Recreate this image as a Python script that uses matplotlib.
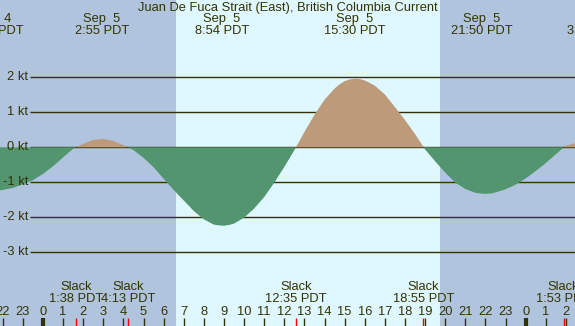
import matplotlib
matplotlib.use("Agg")
import matplotlib.pyplot as plt
import matplotlib.transforms as mtransforms

plt.rcParams['font.family'] = ['Liberation Sans', 'DejaVu Sans']

title = "Juan De Fuca Strait (East), British Columbia Current"

# current speed (kt) (hours from midnight Sep 5)
hours = [-2.5, -2.0, -1.5, -1.0, -0.5, 0.0, 0.5, 1.0, 1.5, 2.0,
         2.5, 3.0, 3.5, 4.0, 4.5, 5.0, 5.5, 6.0, 6.5, 7.0,
         7.5, 8.0, 8.5, 8.75, 9.0, 9.25, 9.5, 10.0, 10.5, 11.0, 11.5, 12.0,
         12.5, 13.0, 13.5, 14.0, 14.5, 14.75, 15.0, 15.25, 15.5, 15.75, 16.0, 16.25,
         16.5, 17.0, 17.5, 18.0, 18.5, 19.0, 19.5, 20.0, 20.5, 21.0, 21.5,
         21.75, 22.0, 22.25, 22.5, 23.0, 23.5, 24.0, 24.5, 25.0, 25.5, 26.0, 26.5, 27.0]
speed = [-1.25, -1.22, -1.16, -1.06, -0.94, -0.76, -0.54, -0.29, -0.04, 0.10,
         0.21, 0.24, 0.18, 0.06, -0.08, -0.30, -0.57, -0.90, -1.22, -1.52,
         -1.82, -2.06, -2.21, -2.23, -2.24, -2.22, -2.18, -2.01, -1.75, -1.42, -1.01, -0.56,
         -0.08, 0.44, 0.93, 1.36, 1.68, 1.80, 1.89, 1.94, 1.96, 1.95, 1.91, 1.84,
         1.76, 1.51, 1.15, 0.78, 0.38, -0.06, -0.40, -0.72, -1.01, -1.19, -1.30,
         -1.32, -1.33, -1.32, -1.29, -1.20, -1.07, -0.89, -0.68, -0.45, -0.20, 0.05, 0.12, 0.18]

# max flood / max ebb labels along the top
peak_hours = [-2.5, 2.917, 8.9, 15.5, 21.833, 27.4]
peak_dates = ["Sep  4", "Sep  5", "Sep  5", "Sep  5", "Sep  5", "Sep  6"]
peak_times = ["21:30 PDT", "2:55 PDT", "8:54 PDT", "15:30 PDT", "21:50 PDT", "3:25 PDT"]

# slack water
slack_hours = [1.633, 4.217, 12.583, 18.917, 25.883]
slack_times = ["1:38 PDT", "4:13 PDT", "12:35 PDT", "18:55 PDT", "1:53 PDT"]

sunrise = 6.61
sunset = 19.74
kt_levels = [2, 1, 0, -1, -2, -3]
hour_ticks = list(range(-2, 27))

night = '#B0C4DE'
day = '#DFF7FF'
flood = '#BD9B7A'
ebb = '#52956F'
ink = '#333300'

W, H = 575, 326
x0, x1 = -2.138, 26.454
y_top, y_bot = 4.209, -5.106


def ypx(py):
    return 1 - py / H


fig = plt.figure(figsize=(W / 100, H / 100), dpi=100)
fig.patch.set_facecolor(day)
ax = fig.add_axes([0, 0, 1, 1])
ax.set_xlim(x0, x1)
ax.set_ylim(y_bot, y_top)
ax.set_axis_off()

ax.axvspan(x0, sunrise, color=night, lw=0, zorder=0)
ax.axvspan(sunset, x1, color=night, lw=0, zorder=0)

ax.hlines(kt_levels, -0.65, x1, color=ink, lw=1, zorder=2)
for lvl in kt_levels:
    ax.text(-0.75, lvl, f"{lvl} kt", ha='right', va='center', fontsize=9.3, color=ink, zorder=5)

ax.fill_between(hours, speed, 0, where=[v >= 0 for v in speed], interpolate=True,
                color=flood, lw=0, zorder=3)
ax.fill_between(hours, speed, 0, where=[v <= 0 for v in speed], interpolate=True,
                color=ebb, lw=0, zorder=3)

trans = mtransforms.blended_transform_factory(ax.transData, ax.transAxes)

ax.text((x0 + x1) / 2, ypx(8), title, transform=trans, ha='center', va='center',
        fontsize=9.3, color=ink)
for h, d, t in zip(peak_hours, peak_dates, peak_times):
    ax.text(h, ypx(19), d, transform=trans, ha='center', va='center', fontsize=9.3, color=ink)
    ax.text(h, ypx(31), t, transform=trans, ha='center', va='center', fontsize=9.3, color=ink)

for h, t in zip(slack_hours, slack_times):
    ax.text(h, ypx(287), "Slack", transform=trans, ha='center', va='center', fontsize=9.3, color=ink)
    ax.text(h, ypx(299), t, transform=trans, ha='center', va='center', fontsize=9.3, color=ink)

for h in hour_ticks:
    ax.text(h, ypx(312), str(h % 24), transform=trans, ha='center', va='center',
            fontsize=9.3, color=ink)
    ax.vlines(h, ypx(H), ypx(318), transform=trans, color=ink,
              lw=3 if h % 24 == 0 else 1, zorder=4)
ax.vlines(slack_hours, ypx(H), ypx(318), transform=trans, color='red', lw=1, zorder=4)

fig.savefig('out.png', dpi=100, facecolor=day)
